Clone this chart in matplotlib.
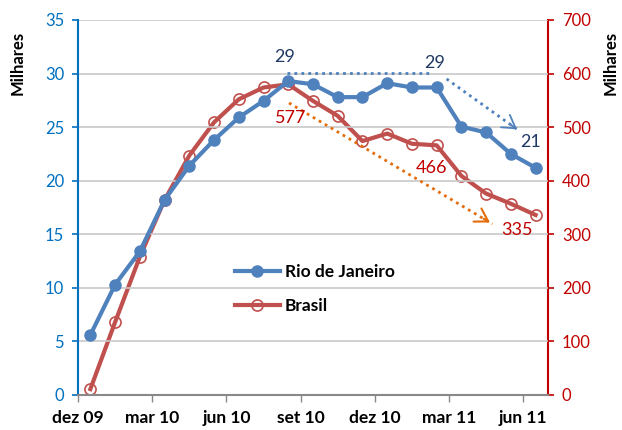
import numpy as np
import matplotlib
matplotlib.use('Agg')
from matplotlib import pyplot as plt

plt.rcParams['font.family'] = ['Lato', 'DejaVu Sans']

# dados (mensais, dez 09 .. jun 11)
rio = [5.6, 10.3, 13.4, 18.2, 21.4, 23.8, 25.9, 27.45, 29.3, 29.0, 27.8, 27.8,
       29.1, 28.7, 28.7, 25.05, 24.5, 22.5, 21.2]
brasil = [11, 136, 258, 364, 447, 509, 552, 574, 580, 549, 521, 474, 488, 469,
          466, 409, 376, 357, 336]
tick_labels = ['dez 09', 'mar 10', 'jun 10', 'set 10', 'dez 10', 'mar 11', 'jun 11']

BLUE = '#4F81BD'
RED = '#C0504D'
AX_BLUE = '#0070C0'
AX_RED = '#C00000'
NAVY = '#1F3864'
ORANGE = '#E46C0A'

x = np.arange(len(rio)) + 0.5

fig = plt.figure(figsize=(6.22, 4.30), dpi=100)
ax = fig.add_axes([0.1254, 0.0814, 0.7556, 0.8721])
ax2 = ax.twinx()

ax.set_xlim(0, 19)
ax.set_ylim(0, 35)
ax2.set_ylim(0, 700)
ax.set_yticks(np.arange(0, 36, 5))
ax2.set_yticks(np.arange(0, 701, 100))
ax.set_xticks(np.arange(0, 19, 3))
ax.set_xticklabels(tick_labels, fontsize=12.5, fontweight='bold')

ax.grid(axis='y', color='#C8C8C8', lw=1.2)
ax.set_axisbelow(True)

for a in (ax, ax2):
    a.spines['top'].set_visible(False)
ax.spines['left'].set_color(AX_BLUE)
ax.spines['left'].set_linewidth(1.5)
ax2.spines['right'].set_color(AX_RED)
ax2.spines['right'].set_linewidth(1.5)
ax2.spines['left'].set_visible(False)
ax.spines['right'].set_visible(False)
ax.spines['bottom'].set_color('#888888')
ax2.spines['bottom'].set_visible(False)
ax.spines['bottom'].set_linewidth(1.5)

ax.tick_params(axis='y', colors=AX_BLUE, labelsize=12, length=4, width=1.2, pad=6)
ax2.tick_params(axis='y', colors=AX_RED, labelsize=12, length=4, width=1.2, pad=6)
ax.tick_params(axis='x', colors='#888888', labelcolor='black', length=5, width=1, pad=6)

# rotulos "Milhares" dos dois eixos
fig.text(18 / 622, 1 - 63 / 430, 'Milhares', fontsize=12, fontweight='bold',
         rotation=90, ha='center', va='center')
fig.text(611 / 622, 1 - 63 / 430, 'Milhares', fontsize=12, fontweight='bold',
         rotation=90, ha='center', va='center')

ax2.plot(x, brasil, color=RED, lw=3, marker='o', ms=8, mfc='none', mec=RED,
         mew=1.2, label='Brasil', zorder=3)
ax.plot(x, rio, color=BLUE, lw=3, marker='o', ms=8, mfc=BLUE, mec=BLUE,
        label='Rio de Janeiro', zorder=3)
ax.set_zorder(ax2.get_zorder() + 1)
ax.patch.set_visible(False)

# setas de tendencia
ax.plot([8.45, 14.33], [30.05, 30.05], color=BLUE, lw=2, ls=(0, (1, 1.5)))
ax.plot([14.9, 17.84], [29.5, 24.65], color=BLUE, lw=2, ls=(0, (1, 1.5)))
ax.annotate('', xy=(17.84, 24.65), xytext=(17.4, 25.37),
            arrowprops=dict(arrowstyle='->,head_length=0.9,head_width=0.55',
                            color=BLUE, lw=1.3))
ax.plot([8.53, 16.75], [27.26, 15.97], color=ORANGE, lw=2, ls=(0, (1, 1.5)))
ax.annotate('', xy=(16.75, 15.97), xytext=(16.3, 16.59),
            arrowprops=dict(arrowstyle='->,head_length=0.9,head_width=0.55',
                            color=ORANGE, lw=1.5))

ax.text(8.37, 31.5, '29', color=NAVY, fontsize=13, ha='center', va='center')
ax.text(14.4, 31.0, '29', color=NAVY, fontsize=13, ha='center', va='center')
ax.text(18.3, 23.6, '21', color=NAVY, fontsize=13, ha='center', va='center')
ax.text(8.6, 25.85, '577', color=AX_RED, fontsize=13, ha='center', va='center')
ax.text(14.3, 21.2, '466', color=AX_RED, fontsize=13, ha='center', va='center')
ax.text(17.76, 15.4, '335', color=AX_RED, fontsize=13, ha='center', va='center')

h1, l1 = ax.get_legend_handles_labels()
h2, l2 = ax2.get_legend_handles_labels()
ax.legend(h1 + h2, l1 + l2, loc='upper left', bbox_to_anchor=(0.3, 0.39),
          frameon=False, prop={'weight': 'bold', 'size': 12.5}, labelspacing=1.0,
          handlelength=2.6, handletextpad=0.3)

fig.savefig('out.png', dpi=100)
